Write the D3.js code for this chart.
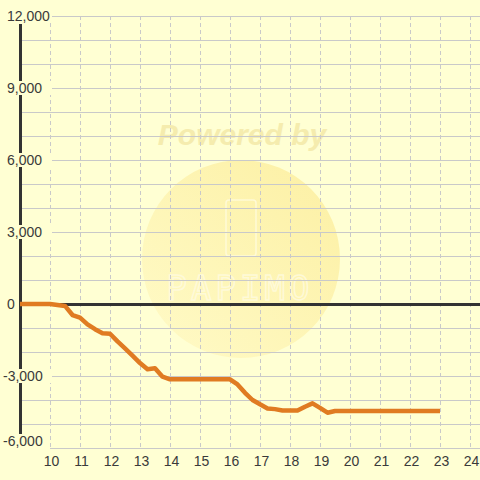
<!DOCTYPE html>
<html>
<head>
<meta charset="utf-8">
<script src="https://cdn.jsdelivr.net/npm/d3@7"></script>
<style>
html,body{margin:0;padding:0;background:#ffffd3;}
svg{display:block;}
</style>
</head>
<body>
<div id="chart"></div>
<script>
// Data (hour of day, value)
const hours  = [9, 10, 10.5, 10.75, 11, 11.25, 11.5, 11.75, 12, 12.25, 12.5, 12.75, 13, 13.25, 13.5, 13.75, 14, 15, 16, 16.25, 16.5, 16.75, 17, 17.25, 17.5, 17.75, 18, 18.25, 18.5, 18.75, 19, 19.25, 19.5, 20, 21, 22, 23];
const values = [0, 0, -80, -460, -570, -850, -1050, -1220, -1240, -1560, -1850, -2150, -2460, -2720, -2680, -3030, -3140, -3140, -3140, -3350, -3700, -4000, -4180, -4350, -4380, -4440, -4440, -4440, -4280, -4140, -4330, -4530, -4460, -4460, -4460, -4460, -4460];
const xTicks = [10, 11, 12, 13, 14, 15, 16, 17, 18, 19, 20, 21, 22, 23, 24];
const yGrid  = [-6000, -5000, -4000, -3000, -2000, -1000, 0, 1000, 2000, 3000, 4000, 5000, 6000, 7000, 8000, 9000, 10000, 11000, 12000];
const yLabels = [-6000, -3000, 0, 3000, 6000, 9000, 12000];

const W = 480, H = 480, BG = "#ffffd3";
const svg = d3.select("#chart").append("svg").attr("width", W).attr("height", H);
svg.append("rect").attr("width", W).attr("height", H).attr("fill", BG);

const x = d3.scaleLinear().domain([9, 9 + 460 / 30]).range([20, 480]);
const y = d3.scaleLinear().domain([-6000, 12000]).range([448, 16]);

// Watermark
const defs = svg.append("defs");
const grad = defs.append("linearGradient").attr("id", "wm").attr("x1", "0").attr("y1", "1").attr("x2", "1").attr("y2", "0");
grad.append("stop").attr("offset", "0").attr("stop-color", "#fffac6");
grad.append("stop").attr("offset", "1").attr("stop-color", "#fcee9e");
const wm = svg.append("g");
wm.append("circle").attr("cx", 241).attr("cy", 259).attr("r", 99).attr("fill", "url(#wm)").attr("opacity", 0.9);
wm.append("text").attr("x", 242).attr("y", 145).attr("text-anchor", "middle")
  .attr("font-family", "Liberation Sans, Arial, sans-serif").attr("font-weight", "bold").attr("font-style", "italic")
  .attr("font-size", 30).attr("fill", "#f5ecae").text("Powered by");
wm.append("rect").attr("x", 226).attr("y", 200).attr("width", 30).attr("height", 56).attr("rx", 3)
  .attr("fill", "none").attr("stroke", "#fffbe0").attr("stroke-width", 1.5).attr("opacity", 0.8);
wm.append("text").attr("x", 240).attr("y", 300).attr("text-anchor", "middle")
  .attr("font-family", "DejaVu Sans Mono, monospace").attr("font-size", 34).attr("letter-spacing", 4)
  .attr("fill", "none").attr("stroke", "#fffbe0").attr("stroke-width", 1.5).attr("opacity", 0.8).text("PAPIMO");

// Horizontal grid
svg.append("g").selectAll("line").data(yGrid).join("line")
  .attr("x1", 20).attr("x2", W)
  .attr("y1", d => Math.round(y(d)) + 0.5).attr("y2", d => Math.round(y(d)) + 0.5)
  .attr("stroke", "#c9c9c9").attr("stroke-width", 1);

// Vertical dashed grid
svg.append("g").selectAll("line").data(xTicks).join("line")
  .attr("x1", d => x(d) + 0.5).attr("x2", d => x(d) + 0.5)
  .attr("y1", 16).attr("y2", 448)
  .attr("stroke", "#c9c9c9").attr("stroke-width", 1).attr("stroke-dasharray", "4,3");

// Y axis line
svg.append("line").attr("x1", 20.5).attr("x2", 20.5).attr("y1", 24).attr("y2", 435)
  .attr("stroke", "#333").attr("stroke-width", 3);

// Zero line
svg.append("line").attr("x1", 20).attr("x2", W).attr("y1", y(0) + 0.5).attr("y2", y(0) + 0.5)
  .attr("stroke", "#333").attr("stroke-width", 3);

// Data line
const line = d3.line().x((d, i) => x(hours[i])).y(d => y(d));
svg.append("path").datum(values).attr("d", line)
  .attr("fill", "none").attr("stroke", "#e07b22").attr("stroke-width", 4.5)
  .attr("stroke-linejoin", "round");

// Y labels with background boxes (bottom label lifted to stay clear of x labels)
const yMin = d3.min(yLabels);
const labelY = d => y(d) - (d === yMin ? 7 : 0);
const yl = svg.append("g").selectAll("g").data(yLabels).join("g");
yl.filter(d => d !== 0).append("rect")
  .attr("x", 0).attr("width", d => d === yMin ? 50 : 52)
  .attr("y", d => labelY(d) - 7).attr("height", d => d === yMin ? 15 : 14).attr("fill", BG);
yl.append("text")
  .attr("x", d => d < 0 ? 3 : 7).attr("y", d => labelY(d) + 5)
  .attr("font-family", "Liberation Sans, Arial, sans-serif").attr("font-size", 14).attr("fill", "#3a3a3a")
  .text(d => d3.format(",")(d).replace("−", "-"));

// X labels
svg.append("g").selectAll("text").data(xTicks).join("text")
  .attr("x", d => x(d) + 1.5).attr("y", 466).attr("text-anchor", "middle")
  .attr("font-family", "Liberation Sans, Arial, sans-serif").attr("font-size", 14).attr("fill", "#3a3a3a")
  .text(d => d);
</script>
</body>
</html>
